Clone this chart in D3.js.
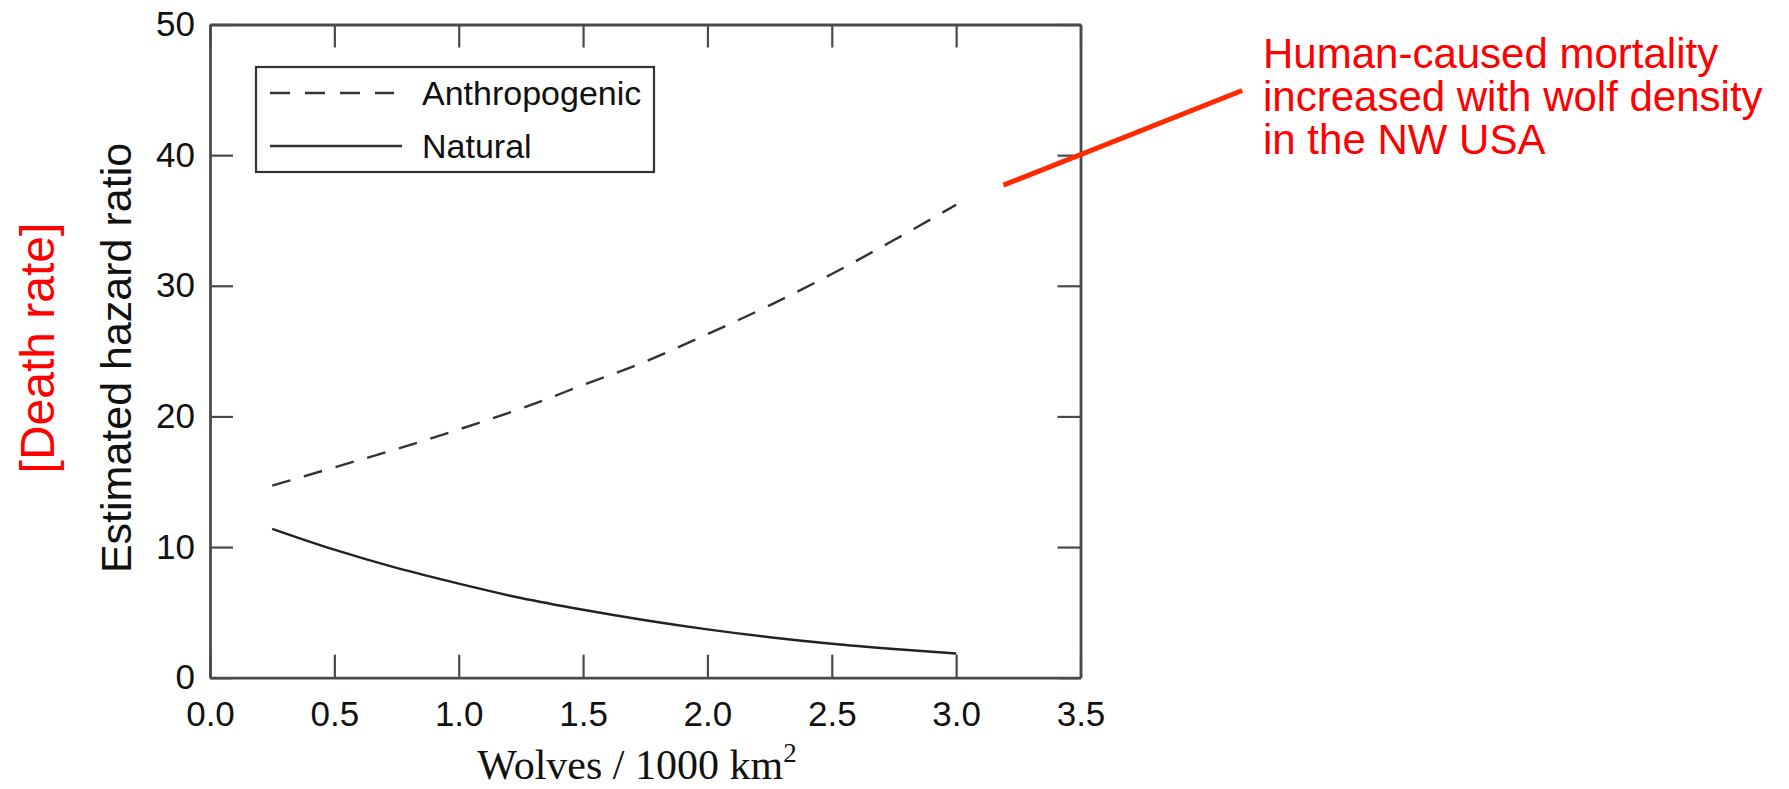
<!DOCTYPE html>
<html>
<head>
<meta charset="utf-8">
<script src="https://cdn.jsdelivr.net/npm/d3@7"></script>
<style>
  body { margin: 0; background: #fff; }
  svg { display: block; }
</style>
</head>
<body>
<div class="canvas"></div>
<script>
// data
const wolves = [0.25, 0.5, 0.75, 1.0, 1.25, 1.5, 1.75, 2.0, 2.25, 2.5, 2.75, 3.0]
const anthropogenic = [14.7, 16.1, 17.5, 19.0, 20.6, 22.4, 24.2, 26.3, 28.5, 30.9, 33.5, 36.2]
const natural = [11.4, 9.8, 8.4, 7.2, 6.1, 5.2, 4.4, 3.7, 3.1, 2.6, 2.2, 1.85]
const xTicks = [0, 0.5, 1.0, 1.5, 2.0, 2.5, 3.0, 3.5]
const yTicks = [0, 10, 20, 30, 40, 50]
const seriesNames = ["Anthropogenic", "Natural"]
// pointer from the curve end out to the note (data units)
const pointerX = [3.19, 4.15]
const pointerY = [37.7, 44.95]
const noteLines = ["Human-caused mortality", "increased with wolf density", "in the NW USA"]

// settings
const svgWidth = 1789
const svgHeight = 789
const plot = {left: 210, right: 1080.5, top: 24.5, bottom: 677.7}
const tickLen = 23
const axisColor = "#4a4a4a"
const sans = "Liberation Sans, Arial, sans-serif"

const svg = d3.select(".canvas")
    .append("svg")
    .attr("width", svgWidth)
    .attr("height", svgHeight)

const x = d3.scaleLinear()
    .domain([0, 3.5])
    .range([plot.left, plot.right])

const y = d3.scaleLinear()
    .domain([0, 50])
    .range([plot.bottom, plot.top])

// axes, ticks pointing inward on all four sides
const fmtX = d3.format(".1f")

svg.append("g")
    .attr("transform", `translate(0, ${plot.bottom})`)
    .call(d3.axisBottom(x).tickValues(xTicks).tickFormat(fmtX)
        .tickSizeInner(-tickLen).tickSizeOuter(0).tickPadding(23))

svg.append("g")
    .attr("transform", `translate(${plot.left}, 0)`)
    .call(d3.axisLeft(y).tickValues(yTicks)
        .tickSizeInner(-tickLen).tickSizeOuter(0).tickPadding(15))

svg.append("g")
    .attr("transform", `translate(0, ${plot.top})`)
    .call(d3.axisTop(x).tickValues(xTicks).tickFormat("")
        .tickSizeInner(-tickLen).tickSizeOuter(0))

svg.append("g")
    .attr("transform", `translate(${plot.right}, 0)`)
    .call(d3.axisRight(y).tickValues(yTicks).tickFormat("")
        .tickSizeInner(-tickLen).tickSizeOuter(0))

svg.selectAll(".domain")
    .attr("stroke", axisColor)
    .attr("stroke-width", 2.8)

svg.selectAll(".tick line")
    .attr("stroke", axisColor)
    .attr("stroke-width", 2.2)

svg.selectAll(".tick text")
    .attr("font-family", sans)
    .attr("font-size", 35)
    .attr("fill", "#111")

// curves
const line = d3.line()
    .x(d => x(d[0]))
    .y(d => y(d[1]))
    .curve(d3.curveMonotoneX)

svg.append("path")
    .datum(wolves.map((w, i) => [w, anthropogenic[i]]))
    .attr("d", line)
    .attr("fill", "none")
    .attr("stroke", "#333")
    .attr("stroke-width", 2.4)
    .attr("stroke-dasharray", "19,14")

svg.append("path")
    .datum(wolves.map((w, i) => [w, natural[i]]))
    .attr("d", line)
    .attr("fill", "none")
    .attr("stroke", "#222")
    .attr("stroke-width", 2.4)

// legend
const legend = svg.append("g")

legend.append("rect")
    .attr("x", 256)
    .attr("y", 67)
    .attr("width", 398)
    .attr("height", 105)
    .attr("fill", "#fff")
    .attr("stroke", "#333")
    .attr("stroke-width", 2.2)

const legendRows = legend.selectAll(".row")
    .data(seriesNames)
    .enter()
    .append("g")
    .attr("transform", (d, i) => `translate(270, ${93 + i * 53})`)

legendRows.append("line")
    .attr("x1", 0)
    .attr("x2", (d, i) => i === 0 ? 124 : 132)
    .attr("stroke", "#333")
    .attr("stroke-width", 2.4)
    .attr("stroke-dasharray", (d, i) => i === 0 ? "20,15" : null)

legendRows.append("text")
    .attr("x", 152)
    .attr("y", 12)
    .attr("font-family", sans)
    .attr("font-size", 34)
    .attr("fill", "#111")
    .text(d => d)

// axis titles
svg.append("text")
    .attr("x", 637)
    .attr("y", 779)
    .attr("text-anchor", "middle")
    .attr("font-family", "Liberation Serif, Times New Roman, serif")
    .attr("font-size", 42)
    .attr("fill", "#111")
    .text("Wolves / 1000 km")
    .append("tspan")
        .attr("dy", -17)
        .attr("font-size", 27)
        .text("2")

svg.append("text")
    .attr("transform", "translate(131, 358) rotate(-90)")
    .attr("text-anchor", "middle")
    .attr("font-family", sans)
    .attr("font-size", 43)
    .attr("fill", "#111")
    .text("Estimated hazard ratio")

svg.append("text")
    .attr("transform", "translate(54, 348) rotate(-90)")
    .attr("text-anchor", "middle")
    .attr("font-family", sans)
    .attr("font-size", 48)
    .attr("fill", "#ff0000")
    .text("[Death rate]")

// annotation
svg.append("line")
    .attr("x1", x(pointerX[0]))
    .attr("y1", y(pointerY[0]))
    .attr("x2", x(pointerX[1]))
    .attr("y2", y(pointerY[1]))
    .attr("stroke", "#ff2a00")
    .attr("stroke-width", 5)

svg.append("text")
    .attr("font-family", sans)
    .attr("font-size", 42)
    .attr("fill", "#ff0000")
    .selectAll("tspan")
    .data(noteLines)
    .enter()
    .append("tspan")
        .attr("x", 1263)
        .attr("y", (d, i) => 68 + i * 43)
        .text(d => d)
</script>
</body>
</html>
